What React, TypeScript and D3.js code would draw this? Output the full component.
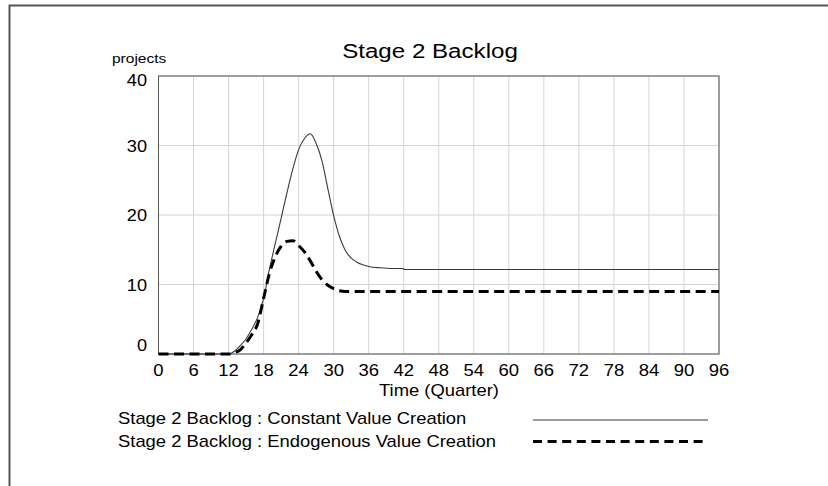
import React from "react";
import * as d3 from "d3";

const xTicks = [0, 6, 12, 18, 24, 30, 36, 42, 48, 54, 60, 66, 72, 78, 84, 90, 96];
const yTicks = [0, 10, 20, 30, 40];

const timeConstant = [0, 12, 13, 14, 15, 16, 17, 18, 19, 20, 21, 22, 23, 24, 25, 26, 27, 28, 29, 30, 31, 32, 33, 34, 36, 38, 40, 41.9, 42, 96];
const constantValues = [0, 0, 0.4, 1.2, 2.2, 3.6, 5.3, 8.0, 12.2, 15.9, 19.5, 23.2, 26.6, 29.4, 31.0, 31.7, 30.3, 27.8, 23.8, 19.9, 16.9, 14.9, 13.8, 13.2, 12.6, 12.4, 12.3, 12.3, 12.15, 12.15];

const timeEndogenous = [0, 12, 13, 14, 15, 16, 17, 18, 19, 20, 21, 22, 23, 24, 25, 26, 27, 28, 29, 30, 31, 32, 96];
const endogenousValues = [0, 0, 0.2, 0.6, 1.6, 2.8, 4.4, 8.0, 11.6, 14.0, 15.5, 16.2, 16.3, 15.6, 14.7, 13.4, 11.9, 10.7, 9.9, 9.4, 9.1, 9.0, 9.0];

const title = "Stage 2 Backlog";
const yUnit = "projects";
const xLabel = "Time (Quarter)";
const legendLabels = [
  "Stage 2 Backlog : Constant Value Creation",
  "Stage 2 Backlog : Endogenous Value Creation",
];

const FONT = "'Liberation Sans', Arial, sans-serif";
const SX = 1.15;

export default function App() {
  const left = 158.5, right = 719, top = 76, bottom = 354;
  const x = d3.scaleLinear().domain([0, 96]).range([left, right]);
  const y = d3.scaleLinear().domain([0, 40]).range([bottom, top]);

  const line = d3
    .line<[number, number]>()
    .x((d) => x(d[0]))
    .y((d) => y(d[1]))
    .curve(d3.curveMonotoneX);

  const constPts = timeConstant.map((t, i) => [t, constantValues[i]] as [number, number]);
  const endoPts = timeEndogenous.map((t, i) => [t, endogenousValues[i]] as [number, number]);

  const T = (props: { x: number; y: number; size: number; anchor?: string; children: React.ReactNode; sx?: number }) => (
    <text
      transform={`translate(${props.x},${props.y}) scale(${props.sx ?? SX},1)`}
      fontFamily={FONT}
      fontSize={props.size}
      textAnchor={props.anchor ?? "start"}
      fill="#000"
    >
      {props.children}
    </text>
  );

  return (
    <svg width={828} height={486} style={{ position: "absolute", left: 0, top: 0, background: "#fff" }}>
      <rect x={0} y={0} width={828} height={486} fill="#fff" />
      <path d={`M9.5,490 V5.5 H830`} fill="none" stroke="#555" strokeWidth={2} />

      <T x={430} y={58} size={21} anchor="middle">{title}</T>
      <T x={112} y={63} size={13.5}>{yUnit}</T>

      {xTicks.map((t) => (
        <line key={"gx" + t} x1={x(t)} x2={x(t)} y1={top} y2={bottom} stroke="#d4d4d4" strokeWidth={1} />
      ))}
      {yTicks.map((v) => (
        <line key={"gy" + v} x1={left} x2={right} y1={y(v)} y2={y(v)} stroke="#d4d4d4" strokeWidth={1} />
      ))}
      <rect x={left} y={top} width={right - left} height={bottom - top} fill="none" stroke="#555" strokeWidth={1} />

      {yTicks.map((v) => {
        const cy = Math.min(Math.max(y(v), top + 4), bottom - 9);
        return (
          <T key={"ly" + v} x={147} y={cy + 6} size={16.5} anchor="end" sx={1.1}>
            {v}
          </T>
        );
      })}
      {xTicks.map((t) => (
        <T key={"lx" + t} x={x(t)} y={376} size={16.5} anchor="middle" sx={1.12}>
          {t}
        </T>
      ))}
      <T x={439} y={396} size={16} anchor="middle">{xLabel}</T>

      <path d={line(constPts) ?? ""} fill="none" stroke="#3a3a3a" strokeWidth={1.1} />
      <path d={line(endoPts) ?? ""} fill="none" stroke="#000" strokeWidth={3} strokeDasharray="10,5.5" />

      <T x={118} y={424} size={16}>{legendLabels[0]}</T>
      <T x={118} y={447} size={16}>{legendLabels[1]}</T>
      <line x1={533} x2={708} y1={420} y2={420} stroke="#9a9a9a" strokeWidth={1.8} />
      <line x1={533} x2={708} y1={441.5} y2={441.5} stroke="#000" strokeWidth={3} strokeDasharray="9,5.6" />
    </svg>
  );
}
